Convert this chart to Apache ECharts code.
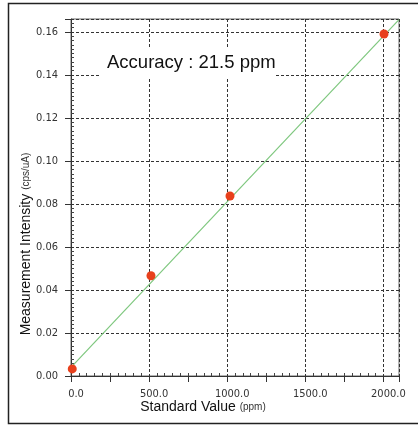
<!DOCTYPE html>
<html lang="en">
<head>
    <meta charset="UTF-8">
    <title>Calibration</title>
    <style>
        * { padding: 0; margin: 0; box-sizing: border-box; }
        html, body { width: 100%; height: 100%; overflow: hidden; background: #fff; }
        #box { width: 418px; height: 425px; }
    </style>
</head>
<body>
    <div id="box"></div>
</body>
<script src="https://cdn.jsdelivr.net/npm/echarts@6/dist/echarts.min.js"></script>
<script>
    // measured points (ppm, cps/uA)
    var standardValues = [8, 512, 1018, 2004];
    var intensities = [0.0033, 0.0466, 0.0837, 0.159];
    // fitted calibration line end points
    var fitX = [0, 2100];
    var fitY = [0.0040, 0.1657];
    var yTicks = [0, 0.02, 0.04, 0.06, 0.08, 0.10, 0.12, 0.14, 0.16];
    var xTicks = [0, 500, 1000, 1500, 2000];

    var narrow = '"Liberation Sans Narrow", "DejaVu Sans Condensed", Arial, sans-serif';

    var pts = [];
    for (var i = 0; i < standardValues.length; i++) {
        pts.push([standardValues[i], intensities[i]]);
    }
    var fit = [];
    for (var j = 0; j < fitX.length; j++) {
        fit.push([fitX[j], fitY[j]]);
    }

    function isTick(list, v) {
        for (var k = 0; k < list.length; k++) {
            if (Math.abs(list[k] - v) < 1e-9) return true;
        }
        return false;
    }

    var box = echarts.init(document.getElementById('box'));
    var option = {
        backgroundColor: '#fff',
        animation: false,
        grid: {
            left: 71, top: 19, right: 19, bottom: 49,
            show: true, borderColor: '#666', borderWidth: 1
        },
        xAxis: [
            {
                type: 'value', min: 0, max: 2100, interval: 250,
                axisLine: { show: true, lineStyle: { color: '#333', width: 1 } },
                axisTick: { show: true, length: 6, lineStyle: { color: '#333' } },
                splitLine: { show: false },
                axisLabel: {
                    margin: 13, fontSize: 11, fontFamily: narrow, color: '#333',
                    formatter: function (v) { return isTick(xTicks, v) ? '{s|}' + v.toFixed(1) : ''; },
                    rich: { s: { width: 10 } }
                }
            },
            {
                type: 'value', min: 0, max: 2100, interval: 500, position: 'bottom', offset: 0,
                axisLine: { show: false },
                axisLabel: { show: false },
                axisTick: { show: false, inside: true },
                minorTick: { show: true, splitNumber: 10, length: 3, lineStyle: { color: '#444' } },
                splitLine: { show: true, lineStyle: { color: '#333', type: [3, 2], width: 1 } }
            }
        ],
        yAxis: [
            {
                type: 'value', min: 0, max: 0.166, interval: 0.02,
                axisLine: { show: true, lineStyle: { color: '#333', width: 1 } },
                axisTick: { show: true, length: 6, lineStyle: { color: '#333' } },
                splitLine: { show: true, lineStyle: { color: '#333', type: [3, 2], width: 1 } },
                axisLabel: {
                    margin: 13, fontSize: 11, fontFamily: narrow, color: '#333',
                    formatter: function (v) { return isTick(yTicks, v) ? v.toFixed(2) : ''; }
                }
            },
            {
                type: 'value', min: 0, max: 0.166, interval: 0.02, position: 'left', offset: 0,
                axisLine: { show: false },
                axisLabel: { show: false },
                axisTick: { show: false, inside: true },
                minorTick: { show: true, splitNumber: 10, length: 3, lineStyle: { color: '#444' } },
                splitLine: { show: false }
            }
        ],
        graphic: [
            {
                type: 'rect', z: 1, silent: true,
                shape: { x: 101, y: 48, width: 173, height: 29 },
                style: { fill: '#fff' }
            },
            {
                type: 'text', z: 10, left: 107, top: 53,
                style: { text: 'Accuracy : 21.5 ppm', font: '18.5px "Liberation Sans", Arial, sans-serif', fill: '#111' }
            },
            {
                type: 'text', z: 10, x: 26, y: 244, rotation: Math.PI / 2,
                style: {
                    text: '{a|Measurement Intensity }{b|(cps/uA)}',
                    rich: {
                        a: { fontSize: 14, fontFamily: '"Liberation Sans", Arial, sans-serif', fill: '#111' },
                        b: { fontSize: 10, fontFamily: '"Liberation Sans", Arial, sans-serif', fill: '#333' }
                    },
                    align: 'center', verticalAlign: 'middle'
                }
            },
            {
                type: 'text', z: 10, x: 203, y: 407,
                style: {
                    text: '{a|Standard Value }{b|(ppm)}',
                    rich: {
                        a: { fontSize: 14, fontFamily: '"Liberation Sans", Arial, sans-serif', fill: '#111' },
                        b: { fontSize: 10, fontFamily: '"Liberation Sans", Arial, sans-serif', fill: '#333' }
                    },
                    align: 'center', verticalAlign: 'middle'
                }
            },
            {
                type: 'rect', z: 10, silent: true,
                shape: { x: 8.5, y: 3.5, width: 420, height: 420 },
                style: { fill: 'none', stroke: '#222', lineWidth: 1.5 }
            }
        ],
        series: [
            {
                name: 'fit', type: 'line', data: fit, symbol: 'none',
                lineStyle: { color: '#7ec77e', width: 1.2 }, z: 3
            },
            {
                name: 'points', type: 'scatter', data: pts, symbolSize: 9,
                itemStyle: { color: '#e8401c', opacity: 1 }, z: 4
            }
        ]
    };
    box.setOption(option);
</script>
</html>
